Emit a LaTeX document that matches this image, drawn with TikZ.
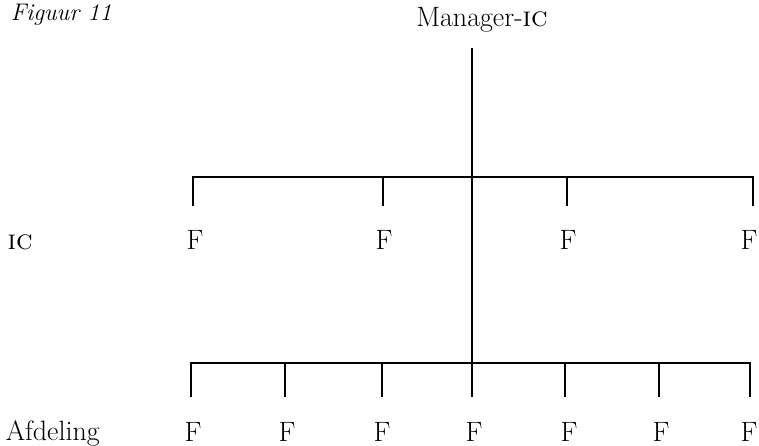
\documentclass[tikz,border=0pt]{standalone}
\usepackage{fontspec}
\begin{document}
\begin{tikzpicture}[x=1pt,y=-1pt,line width=1.5pt,
  lbl/.style={inner sep=0pt,anchor=base,font=\fontsize{28}{33}\selectfont}]
\useasboundingbox (0,0) rectangle (759,445);
% titles
\node[lbl,anchor=base west,font=\fontsize{24}{29}\selectfont\itshape] (fig) at (10,20) {Figuur 11};
\node[lbl] (mgr) at (482,26) {Manager-\textsc{ic}};
\node[lbl,anchor=base west] (ic) at (7,249) {\textsc{ic}};
\node[lbl,anchor=base west] (afd) at (5,440) {Afdeling};
% main vertical
\coordinate (vtop) at (472,48);
\coordinate (vend) at (472,397);
\draw (vtop) -- (vend);
% top level
\foreach \i/\x in {1/193,2/383,3/567,4/753}{
  \coordinate (ta\i) at (\x,177);
  \coordinate (tb\i) at (\x,206);
}
\foreach \i/\x in {1/195,2/384,3/568,4/749}{
  \node[lbl] (tf\i) at (\x,249) {F};
}
\draw (tb1) -- (ta1) -- (ta4) -- (tb4);
\draw (ta2) -- (tb2);
\draw (ta3) -- (tb3);
% bottom level
\foreach \i/\x in {1/191,2/285,3/382,4/472,5/565,6/659,7/750}{
  \coordinate (ba\i) at (\x,363);
  \coordinate (bb\i) at (\x,397);
}
\foreach \i/\x in {1/193,2/287,3/382,4/474,5/569,6/661,7/749}{
  \node[lbl] (bf\i) at (\x,441) {F};
}
\draw (bb1) -- (ba1) -- (ba7) -- (bb7);
\foreach \i in {2,3,5,6}{\draw (ba\i) -- (bb\i);}
\end{tikzpicture}
\end{document}
